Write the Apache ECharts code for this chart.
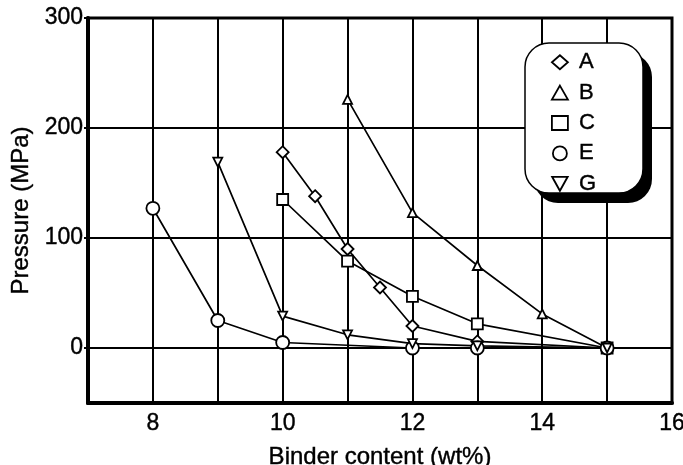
<!DOCTYPE html>
<html>
<head>
<meta charset="utf-8">
<script src="https://cdn.jsdelivr.net/npm/echarts@6/dist/echarts.min.js"></script>
<style>
  html, body { margin: 0; padding: 0; background: #fff; }
  #main { width: 683px; height: 465px; }
</style>
</head>
<body>
<div id="main"></div>
<script>
// binder content (wt%) vs pressure (MPa)
const names = ['A', 'B', 'C', 'E', 'G'];
const aX = [10, 10.5, 11, 11.5, 12, 13, 15];
const aY = [178, 138, 90, 55, 20, 6, 0];
const bX = [11, 12, 13, 14, 15];
const bY = [226, 123, 75, 31, 0];
const cX = [10, 11, 12, 13, 15];
const cY = [135, 79, 47, 22, 0];
const eX = [8, 9, 10, 12, 13, 15];
const eY = [127, 25, 5, 0, 0, 0];
const gX = [9, 10, 11, 12, 13, 15];
const gY = [169, 29, 12, 4, 2, 0];
const xTicks = [8, 10, 12, 14, 16];
const yTicks = [0, 100, 200, 300];

const downTri = 'path://M0,0 L10,0 L5,9 Z';
const symbols = ['diamond', 'triangle', 'rect', 'circle', downTri];
const sizes = [12, 9, 11, 13, 9];
const xs = [aX, bX, cX, eX, gX];
const ys = [aY, bY, cY, eY, gY];

const font = 'Liberation Sans, Arial, sans-serif';
const txt = function (size) {
  return { fontFamily: font, fontSize: size, color: '#000',
           textBorderColor: '#000', textBorderWidth: 0.4 };
};
const chart = echarts.init(document.getElementById('main'));

const series = names.map(function (n, i) {
  return {
    name: n,
    type: 'line',
    data: xs[i].map(function (x, k) { return [x, ys[i][k]]; }),
    symbol: symbols[i],
    symbolSize: sizes[i],
    showAllSymbol: true,
    lineStyle: { color: '#000', width: 1.7 },
    itemStyle: { color: '#fff', borderColor: '#000', borderWidth: 1.8 },
    z: 5
  };
});

const option = {
  animation: false,
  backgroundColor: '#fff',
  grid: {
    left: 88, right: 11, top: 18, bottom: 62,
    outerBoundsMode: 'none',
    show: true, borderColor: '#000', borderWidth: 3
  },
  // rounded legend box with a solid drop shadow
  graphic: [
    { type: 'rect', z: 3, shape: { x: 534, y: 53, width: 118, height: 150, r: 24 },
      style: { fill: '#000' } },
    { type: 'rect', z: 3, shape: { x: 525, y: 43, width: 118, height: 150, r: 24 },
      style: { fill: '#fff', stroke: '#000', lineWidth: 1.5 } }
  ],
  legend: {
    orient: 'vertical',
    left: 551, top: 51,
    data: names.map(function (n, i) { return { name: n, icon: symbols[i] }; }),
    itemWidth: 16, itemHeight: 14, itemGap: 8,
    padding: 0,
    itemStyle: { color: '#fff', borderColor: '#000', borderWidth: 1.8 },
    textStyle: Object.assign(txt(22), { padding: [0, 0, 0, 6] }),
    selectedMode: false,
    z: 6
  },
  xAxis: {
    type: 'value', min: 7, max: 16, interval: 1,
    name: 'Binder content (wt%)', nameLocation: 'middle', nameGap: 42,
    nameTextStyle: txt(24),
    axisLine: { onZero: false, lineStyle: { color: '#000', width: 4 } },
    axisTick: { show: false },
    axisLabel: Object.assign(txt(23), { margin: 9, customValues: xTicks }),
    splitLine: { show: true, lineStyle: { color: '#000', width: 2 } }
  },
  yAxis: {
    type: 'value', min: -50, max: 300, interval: 50,
    name: 'Pressure (MPa)', nameLocation: 'middle', nameGap: 54,
    nameTextStyle: txt(24),
    axisLine: { show: true, onZero: false, lineStyle: { color: '#000', width: 4 } },
    axisTick: { show: true, length: 4, customValues: yTicks,
                lineStyle: { color: '#000', width: 2 } },
    axisLabel: Object.assign(txt(23), { margin: 5, customValues: yTicks }),
    splitLine: { show: true, lineStyle: { color: '#000', width: 2 } }
  },
  series: series
};

chart.setOption(option);
</script>
</body>
</html>
